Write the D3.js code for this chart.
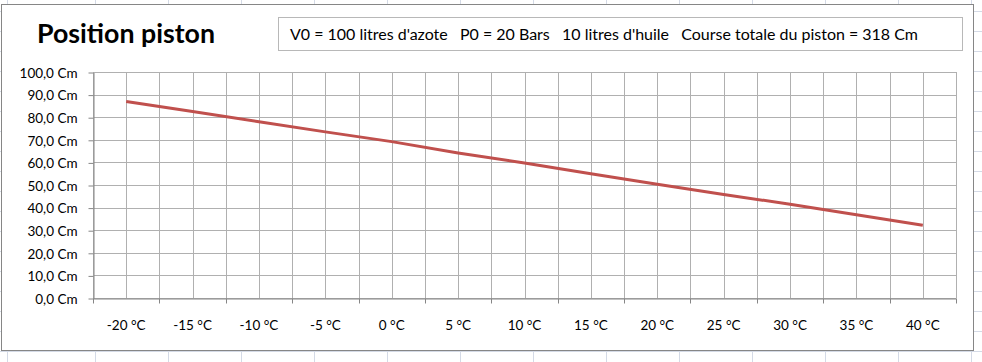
<!DOCTYPE html>
<html>
<head>
  <meta charset="utf-8">
  <title>Position piston</title>
  <script src="https://cdn.jsdelivr.net/npm/d3@7"></script>
  <style>
    body { margin: 0; background: #fff; }
    text { font-family: Lato, "Open Sans", sans-serif; fill: #000; }
    .axis path, .axis line { stroke: #868686; }
    .grid line { stroke: #b0b0b0; stroke-width: 1; }
  </style>
</head>
<body>
  <svg id="chart" width="982" height="362"></svg>
  <script>
    // data
    var temps = [-20, -15, -10, -5, 0, 5, 10, 15, 20, 25, 30, 35, 40];
    var position = [86.9, 82.5, 78.0, 73.5, 69.2, 64.2, 59.7, 55.0, 50.3, 45.8, 41.5, 36.8, 32.2];
    var yTicks = [0, 10, 20, 30, 40, 50, 60, 70, 80, 90, 100];
    var title = 'Position piston';
    var note = "V0 = 100 litres d'azote   P0 = 20 Bars   10 litres d'huile   Course totale du piston = 318 Cm";

    var svg = d3.select('#chart');

    // spreadsheet cells behind the chart
    var sheet = svg.append('g');
    var colX = [7].concat(d3.range(95, 982, 73));
    sheet.selectAll('line.col').data(colX).enter().append('line')
      .attr('x1', d => d + 0.5).attr('x2', d => d + 0.5)
      .attr('y1', 0).attr('y2', 362)
      .attr('stroke', '#d4dae6');
    sheet.selectAll('line.row').data(d3.range(11, 362, 20)).enter().append('line')
      .attr('x1', 0).attr('x2', 982)
      .attr('y1', d => d + 0.5).attr('y2', d => d + 0.5)
      .attr('stroke', '#d4dae6');

    // chart frame
    svg.append('rect')
      .attr('x', 1.5).attr('y', 4.5)
      .attr('width', 972).attr('height', 346)
      .attr('fill', '#fff')
      .attr('stroke', '#868686');

    var plotL = 93, plotR = 956, plotT = 72, plotB = 298;

    var x = d3.scaleBand().domain(temps).range([plotL, plotR]).padding(0);
    var y = d3.scaleLinear().domain([0, 100]).range([plotB, plotT]);

    var fr = d3.formatLocale({ decimal: ',', thousands: ' ', grouping: [3], currency: ['', ''] });
    var f1 = fr.format('.1f');

    // gridlines: band edges and band centres
    var vx = [];
    temps.forEach(function (t) {
      vx.push(x(t));
      vx.push(x(t) + x.bandwidth() / 2);
    });
    vx.push(plotR);
    var grid = svg.append('g').attr('class', 'grid');
    grid.selectAll('line.v').data(vx).enter().append('line')
      .attr('x1', d => Math.round(d) + 0.5).attr('x2', d => Math.round(d) + 0.5)
      .attr('y1', plotT).attr('y2', plotB);
    grid.selectAll('line.h').data(yTicks).enter().append('line')
      .attr('x1', plotL).attr('x2', plotR)
      .attr('y1', d => Math.round(y(d)) + 0.5).attr('y2', d => Math.round(y(d)) + 0.5);

    // y axis
    var yAxis = svg.append('g').attr('class', 'axis')
      .attr('transform', 'translate(' + (plotL + 0.5) + ',0.5)')
      .call(d3.axisLeft(y).tickValues(yTicks).tickSize(5).tickSizeOuter(0)
        .tickFormat(d => f1(d) + ' Cm'));
    yAxis.selectAll('text').attr('x', -16).style('font-size', '13.5px').attr('dy', '0.36em');

    // x axis, ticks on band edges
    var xAxis = svg.append('g').attr('class', 'axis')
      .attr('transform', 'translate(0,' + (plotB + 0.5) + ')')
      .call(d3.axisBottom(x).tickSize(0).tickSizeOuter(0).tickFormat(d => d + ' °C'));
    xAxis.selectAll('text').attr('y', 22).style('font-size', '13.5px');
    xAxis.selectAll('line.edge').data(temps.concat(['end'])).enter().append('line')
      .attr('class', 'edge')
      .attr('x1', d => Math.round(d === 'end' ? plotR : x(d)) + 0.5)
      .attr('x2', d => Math.round(d === 'end' ? plotR : x(d)) + 0.5)
      .attr('y1', 0).attr('y2', 5)
      .attr('stroke', '#868686');

    // the line
    var line = d3.line()
      .x((d, i) => x(temps[i]) + x.bandwidth() / 2)
      .y(d => y(d));
    svg.append('path')
      .datum(position)
      .attr('d', line)
      .attr('fill', 'none')
      .attr('stroke', '#c0504d')
      .attr('stroke-width', 3);

    // title
    svg.append('text')
      .attr('x', 37).attr('y', 43)
      .attr('textLength', 178).attr('lengthAdjust', 'spacingAndGlyphs')
      .style('font-size', '26px').style('font-weight', 'bold')
      .text(title);

    // note box
    svg.append('rect')
      .attr('x', 278.5).attr('y', 17.5)
      .attr('width', 684).attr('height', 33)
      .attr('fill', '#fff').attr('stroke', '#b8b8b8');
    svg.append('text')
      .attr('x', 290).attr('y', 40)
      .attr('textLength', 628).attr('lengthAdjust', 'spacingAndGlyphs')
      .style('font-size', '15.5px')
      .style('white-space', 'pre')
      .text(note);
  </script>
</body>
</html>
